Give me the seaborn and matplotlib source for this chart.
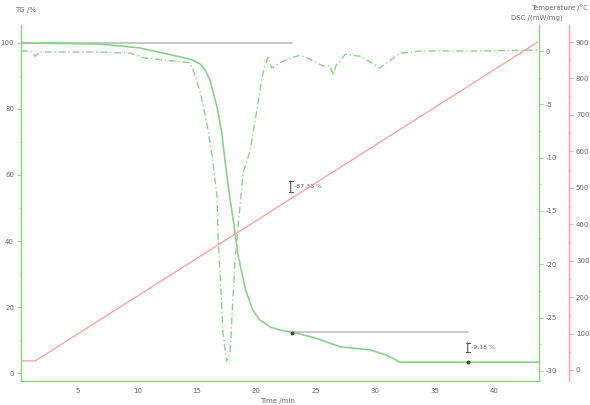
import matplotlib
matplotlib.use("Agg")
import matplotlib.pyplot as plt
import seaborn as sns
import numpy as np
import pandas as pd
from matplotlib.ticker import MultipleLocator

sns.set_style("white")
plt.rcParams['font.family'] = ['DejaVu Sans']
plt.rcParams['axes.unicode_minus'] = False

# ---- data ----
tg_time = [0.2, 6.9, 10.2, 13.6, 14.6, 15.3, 15.7, 16.1, 16.7, 17.1, 17.4, 17.8, 18.1, 18.5, 19.1,
           19.7, 20.3, 21.2, 22.0, 23.0, 25.0, 27.1, 29.6, 30.9, 32.1, 43.8]
tg_mass = [100.0, 99.7, 98.5, 95.8, 94.9, 93.6, 91.8, 88.8, 80.6, 72.7, 63.6, 52.4, 45.5, 35.2, 25.2,
           19.1, 16.1, 13.9, 13.0, 12.4, 10.6, 7.9, 7.0, 5.5, 3.3, 3.3]

dsc_time = [0.2, 1.0, 1.4, 1.8, 6.9, 9.4, 10.6, 12.3, 13.6, 14.4, 14.7, 15.3, 15.9, 16.3,
            16.7, 16.8, 17.1, 17.2, 17.5, 17.8, 18.0, 18.2, 18.5, 18.9, 19.5, 20.1, 20.5,
            20.7, 21.0, 21.3, 22.0, 22.9, 23.7, 24.5, 25.6, 26.2, 26.5, 26.7, 27.5, 28.8,
            30.4, 32.1, 33.8, 38.8, 43.8]
dsc_val = [0.0, 0.0, -0.5, -0.1, -0.1, -0.2, -0.65, -0.85, -1.0, -1.1, -1.8, -3.9, -7.1, -9.9,
           -13.7, -17.7, -24.0, -26.4, -29.1, -28.3, -24.0, -19.9, -16.1, -11.4, -9.3, -5.2, -2.4,
           -1.5, -0.6, -1.6, -1.1, -0.65, -0.4, -0.75, -1.4, -1.4, -2.3, -1.4, -0.3, -0.5,
           -1.6, -0.2, 0.0, 0.0, 0.1]

temp_time = [0.2, 1.4, 43.7]
temp_val = [25, 25, 900]

step_start = [0.2, 23.0]
step_end = [23.0, 37.8]
step_level = [100.0, 12.4]
step_labels = ["-87.38 %", "-9.18 %"]
step_bracket_t = [22.9, 37.8]
step_bracket_lo = [54.0, 5.5]
step_bracket_hi = [59.0, 10.0]

x_ticks = [5, 10, 15, 20, 25, 30, 35, 40]
tg_ticks = [0, 20, 40, 60, 80, 100]
dsc_ticks = [0, -5, -10, -15, -20, -25, -30]
temp_ticks = [0, 100, 200, 300, 400, 500, 600, 700, 800, 900]

GREEN = '#8dd08d'
RED = '#ff9c9c'
GRAY = '#bdbdbd'
TXT = '#666666'

tg_df = pd.DataFrame({'t': tg_time, 'v': tg_mass})
dsc_df = pd.DataFrame({'t': dsc_time, 'v': dsc_val})
temp_df = pd.DataFrame({'t': temp_time, 'v': temp_val})

fig = plt.figure(figsize=(5.9, 4.05), dpi=100)
ax = fig.add_axes([21/590, 24/405, (539-21)/590, (381-25)/405])
ax2 = ax.twinx()
ax3 = ax.twinx()
ax3.spines['right'].set_position(('outward', 21.6))

# step baselines
for s, e, l in zip(step_start, step_end, step_level):
    ax.plot([s, e], [l, l], color=GRAY, lw=1.2, zorder=1)

sns.lineplot(data=tg_df, x='t', y='v', ax=ax, color=GREEN, lw=1.2, sort=False, zorder=3)
sns.lineplot(data=dsc_df, x='t', y='v', ax=ax2, color=GREEN, lw=1.0, sort=False,
             linestyle=(0, (5, 2, 1, 2)))
sns.lineplot(data=temp_df, x='t', y='v', ax=ax3, color=RED, lw=0.9, sort=False)

# step markers
for t, lo, hi, lab in zip(step_bracket_t, step_bracket_lo, step_bracket_hi, step_labels):
    ax.annotate('', xy=(t, lo), xytext=(t, hi),
                arrowprops=dict(arrowstyle='|-|,widthA=0.15,widthB=0.15', color='#555555', lw=0.8))
    ax.text(t + 0.3, (lo + hi) / 2, lab, fontsize=4.5, color=TXT, va='center', ha='left')
ax.plot([23.0, 37.8], [12.2, 3.3], ls='none', marker='o', ms=1.8, color='#444444', zorder=4)

ax.set_xlim(0.2, 43.8)
ax.set_ylim(-2.42, 105.45)
ax2.set_ylim(-30.94, 2.44)
ax3.set_ylim(-30.2, 946.7)

ax.set_xticks(x_ticks)
ax.xaxis.set_minor_locator(MultipleLocator(2.5))
ax.set_yticks(tg_ticks)
ax.yaxis.set_minor_locator(MultipleLocator(10))
ax2.set_yticks(dsc_ticks)
ax2.yaxis.set_minor_locator(MultipleLocator(2.5))
ax3.set_yticks(temp_ticks)
ax3.yaxis.set_minor_locator(MultipleLocator(50))

for a in (ax, ax2, ax3):
    a.set_xlabel('')
    a.set_ylabel('')
    a.tick_params(which='major', length=3, width=0.6, labelsize=5, labelcolor=TXT, pad=2)
    a.tick_params(which='minor', length=1.5, width=0.5)

ax.tick_params(axis='x', colors=TXT, labelcolor=TXT)
ax.tick_params(axis='y', which='both', colors=GREEN, labelcolor=TXT)
ax2.tick_params(axis='y', which='both', colors=GREEN, labelcolor=TXT)
ax3.tick_params(axis='y', which='both', colors=RED, labelcolor=TXT)

for sp in ['top', 'right']:
    ax.spines[sp].set_visible(False)
ax.spines['left'].set_color(GREEN)
ax.spines['bottom'].set_color(GREEN)
for a in (ax2, ax3):
    for sp in ['top', 'left', 'bottom']:
        a.spines[sp].set_visible(False)
ax2.spines['right'].set_color(GREEN)
ax3.spines['right'].set_color(RED)
for a in (ax, ax2, ax3):
    for sp in a.spines.values():
        sp.set_linewidth(1.0)

fig.text(15/590, 1 - 10/405, 'TG /%', fontsize=5, color=TXT, ha='left', va='center')
fig.text(537/590, 1 - 18/405, 'DSC /(mW/mg)', fontsize=5, color=TXT, ha='center', va='center')
fig.text(588/590, 1 - 8/405, 'Temperature /°C', fontsize=5, color=TXT, ha='right', va='center')
fig.text(278/590, 1 - 401/405, 'Time /min', fontsize=5, color=TXT, ha='center', va='center')

fig.savefig('out.png', dpi=100)
